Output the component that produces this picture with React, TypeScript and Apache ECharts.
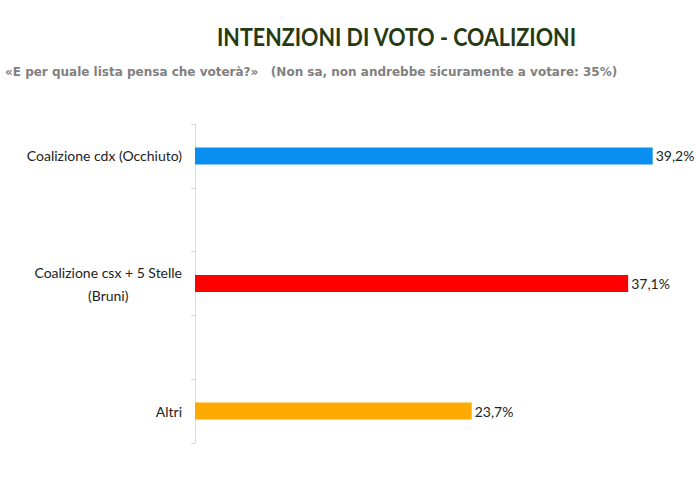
import React, { useEffect, useRef } from "react";
import * as echarts from "echarts";

const categories = [
  "Coalizione cdx (Occhiuto)",
  "",
  "Coalizione csx + 5 Stelle\n(Bruni)",
  "",
  "Altri",
];
const values: (number | null)[] = [39.2, null, 37.1, null, 23.7];
const barColors = ["#0a8ef0", "#ffffff", "#ff0000", "#ffffff", "#ffaa00"];
const titleText = "INTENZIONI DI VOTO - COALIZIONI";
const subtitleText =
  "«E per quale lista pensa che voterà?»   (Non sa, non andrebbe sicuramente a votare: 35%)";

export default function App() {
  const ref = useRef<HTMLDivElement>(null);
  useEffect(() => {
    if (!ref.current) return;
    const chart = echarts.init(ref.current, null, { renderer: "svg" });
    chart.setOption({
      animation: false,
      backgroundColor: "#ffffff",
      graphic: [
        {
          type: "text",
          x: 217,
          y: 24,
          scaleX: 0.86,
          style: {
            text: titleText,
            fill: "#253a10",
            font: "bold 25px Lato",
            align: "left",
            verticalAlign: "top",
          },
        },
        {
          type: "text",
          left: 5,
          top: 66,
          style: {
            text: subtitleText,
            fill: "#808080",
            font: "bold 12px 'DejaVu Sans'",
          },
        },
      ],
      grid: { left: 195, right: 34, top: 124, bottom: 36, containLabel: false },
      xAxis: {
        type: "value",
        min: 0,
        max: 40,
        show: false,
      },
      yAxis: {
        type: "category",
        inverse: true,
        data: categories,
        axisLine: { show: true, lineStyle: { color: "#d9d9d9", width: 1 } },
        axisTick: { show: true, length: 4, lineStyle: { color: "#d9d9d9" } },
        axisLabel: {
          margin: 13,
          color: "#222222",
          fontFamily: "Lato",
          fontSize: 14,
          lineHeight: 23,
          formatter: (v: string) =>
            v
              .split("\n")
              .map((l) => (l ? `{c|${l}}` : ""))
              .join("\n"),
          rich: { c: { align: "center", fontFamily: "Lato", fontSize: 14, color: "#222222", lineHeight: 23 } },
        },
        splitLine: { show: false },
      },
      series: [
        {
          type: "bar",
          barWidth: 17,
          data: values.map((v, i) => ({
            value: v,
            itemStyle: { color: barColors[i] },
          })),
          label: {
            show: true,
            position: "right",
            distance: 3,
            color: "#222222",
            fontFamily: "Lato",
            fontSize: 14,
            formatter: (p: any) => `${String(p.value).replace(".", ",")}%`,
          },
        },
      ],
    });
    return () => chart.dispose();
  }, []);
  return (
    <div
      ref={ref}
      style={{ position: "fixed", left: 0, top: 0, width: 696, height: 479 }}
    />
  );
}
